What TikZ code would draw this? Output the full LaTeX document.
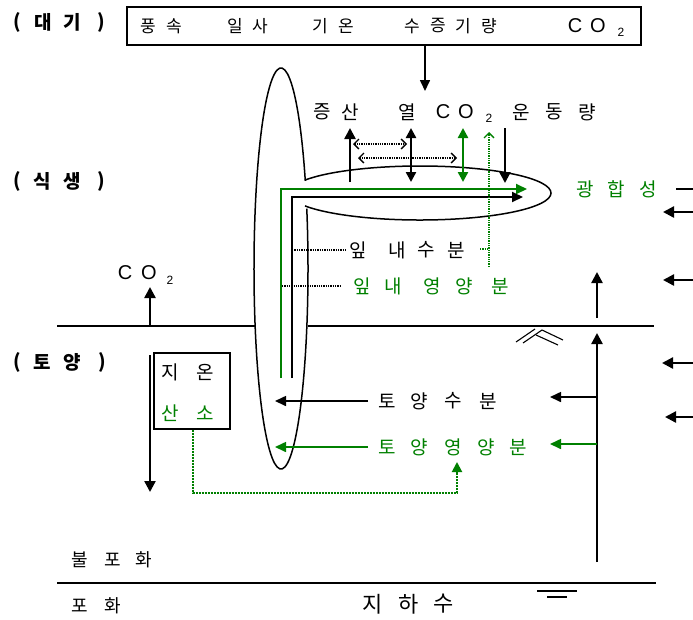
\documentclass[tikz,border=0pt]{standalone}
\usepackage{fontspec}
\setmainfont{Noto Sans CJK KR}
\newfontfamily\latfont{Liberation Sans}
\usetikzlibrary{arrows.meta}
\definecolor{vg}{RGB}{0,128,0}
\tikzset{
  kt/.style={font=\fontsize{19}{19}\selectfont, inner sep=0pt},
  kg/.style={kt, text=vg},
  kbx/.style={font=\fontsize{17}{17}\selectfont, inner sep=0pt},
  ksm/.style={font=\fontsize{18}{18}\selectfont, inner sep=0pt},
  kbig/.style={font=\fontsize{22}{22}\selectfont, inner sep=0pt},
  kbold/.style={font=\bfseries\fontsize{19}{19}\selectfont, inner sep=0pt},
  lt/.style={font=\latfont\fontsize{20}{20}\selectfont, inner sep=0pt},
  lsub/.style={font=\latfont\fontsize{12}{12}\selectfont, inner sep=0pt},
  thick arrow/.style={line width=2.4pt, -{Triangle[length=11pt,width=11pt]}},
  thick double/.style={line width=2.4pt, {Triangle[length=10pt,width=10pt]}-{Triangle[length=10pt,width=10pt]}},
  thin arrow/.style={line width=1.6pt, -{Triangle[length=11pt,width=10pt]}},
  open double/.style={line width=1.3pt, densely dotted, {Straight Barb[length=5pt,width=10pt,line width=1.3pt]}-{Straight Barb[length=5pt,width=10pt,line width=1.3pt]}},
  outline/.style={line width=1.5pt},
  dotline/.style={line width=1.3pt, densely dotted},
}
\begin{document}
\begin{tikzpicture}[x=1pt,y=1pt]
\useasboundingbox (0,0) rectangle (693,-619);

% ---- layer labels
\node[kbold] (a1) at (17,-22) {(};
\node[kbold] (a2) at (43,-22) {대};
\node[kbold] (a3) at (72,-22) {기};
\node[kbold] (a4) at (101,-22) {)};
\node[kbold] (p1) at (17,-181) {(};
\node[kbold] (p2) at (42,-181) {식};
\node[kbold] (p3) at (72,-181) {생};
\node[kbold] (p4) at (101,-181) {)};
\node[kbold] (s1) at (17,-362) {(};
\node[kbold] (s2) at (42,-362) {토};
\node[kbold] (s3) at (72,-362) {양};
\node[kbold] (s4) at (102,-362) {)};

% ---- atmosphere box
\node[draw, outline, minimum width=514pt, minimum height=38pt, inner sep=0pt] (topbox) at (384,-26) {};
\foreach \x/\c [count=\i] in {148/풍,174/속,235/일,260/사,320/기,346/온,412/수,438/증,463/기,489/량}
  \node[kbx] (b\i) at (\x,-26) {\c};
\node[lt] (bC) at (575,-26) {C};
\node[lt] (bO) at (598,-26) {O};
\node[lsub] (b2) at (621,-32) {2};
\coordinate (boxarr) at (425,-91);
\draw[thin arrow] (topbox.south -| boxarr) -- (boxarr);

% ---- plant row labels
\foreach \x/\c [count=\i] in {322/증,350/산,407/열,521/운,554/동,587/량}
  \node[kt] (u\i) at (\x,-112) {\c};
\node[lt] (uC) at (443,-112) {C};
\node[lt] (uO) at (466,-112) {O};
\node[lsub] (u2) at (489,-118) {2};

\foreach \x/\c [count=\i] in {585/광,616/합,648/성}
  \node[kg] (g\i) at (\x,-189) {\c};

\foreach \x/\c [count=\i] in {358/잎,397/내,426/수,456/분}
  \node[kt] (w\i) at (\x,-250) {\c};
\foreach \x/\c [count=\i] in {362/잎,393/내,432/영,464/양,500/분}
  \node[kg] (n\i) at (\x,-286) {\c};

% ---- stem / leaf outlines (leaf opens into the stem)
\draw[outline] (281,-268.5) ++(25.9:27pt and 200.5pt)
  arc[start angle=25.9, end angle=377.4, x radius=27pt, y radius=200.5pt];
\draw[outline] (420,-193) ++(151.4:131pt and 27pt)
  arc[start angle=151.4, end angle=-151.4, x radius=131pt, y radius=27pt];

% ---- transport paths
\draw[vg, line width=2pt, -{Triangle[length=11pt,width=10pt]}] (281,-378) -- (281,-189) -- (527,-189);
\draw[line width=2pt, -{Triangle[length=11pt,width=10pt]}] (292,-378) -- (292,-197) -- (523,-197);
\draw[dotline] (292,-250) -- (347,-250);
\draw[dotline] (282,-286) -- (340,-286);
\draw[dotline, vg] (480,-249) -- (489,-249);
\draw[dotline, vg, -{Straight Barb[length=5pt,width=10pt,line width=1.3pt]}] (489,-267) -- (489,-132);

% ---- exchange arrows
\draw[thick arrow] (350,-182) -- (350,-128);
\draw[thick double] (411,-182) -- (411,-128);
\draw[thick double, vg] (463,-182) -- (463,-128);
\draw[thick arrow] (505,-128) -- (505,-183);
\draw[open double] (353,-144) -- (407,-144);
\draw[open double] (358,-158) -- (457,-158);

% ---- right side
\draw[line width=1.2pt] (676,-189) -- (693,-189);
\foreach \y/\t [count=\i] in {212/663,280/663,363/662,417/665}
  \draw[thick arrow] (693,-\y) -- (\t,-\y);
\draw[thick arrow] (597,-318) -- (597,-272);
\draw[thick arrow] (597,-562) -- (597,-333);
\draw[thin arrow] (597,-397) -- (550,-397);
\draw[thin arrow, vg] (597,-444) -- (550,-444);

% ---- ground surface
\draw[line width=1.2pt] (57,-326) -- (254.5,-326);
\draw[line width=1.2pt] (307.5,-326) -- (654,-326);
\draw[line width=1.1pt] (516,-342) -- (535,-329);
\draw[line width=1.1pt] (523,-343) -- (542,-330) -- (563,-340);
\draw[line width=1.1pt] (536,-335) -- (558,-345);

% ---- left: CO2 and soil box
\node[lt] (lC) at (125,-273) {C};
\node[lt] (lO) at (149,-273) {O};
\node[lsub] (l2) at (170,-280) {2};
\draw[thick arrow] (150,-326) -- (150,-287);
\draw[thick arrow] (150,-355) -- (150,-492);
\node[draw, line width=1.2pt, minimum width=76pt, minimum height=76pt, inner sep=0pt] (soilbox) at (192,-391) {};
\node[kt] (j1) at (170,-372) {지};
\node[kt] (j2) at (205,-372) {온};
\node[kg] (o1) at (170,-413) {산};
\node[kg] (o2) at (205,-413) {소};
\coordinate (oxyend) at (457,-462);
\draw[vg, line width=2pt, densely dotted, -{Triangle[length=10pt,width=10pt]}]
  (soilbox.south -| 193,0) -- (193,-493) -- (457,-493) -- (oxyend);

% ---- soil water / nutrient
\foreach \x/\c [count=\i] in {387/토,419/양,453/수,488/분}
  \node[kt] (sw\i) at (\x,-401) {\c};
\foreach \x/\c [count=\i] in {387/토,419/양,453/영,486/양,518/분}
  \node[kg] (sn\i) at (\x,-447) {\c};
\draw[thin arrow] (368,-401) -- (275,-401);
\draw[thin arrow, vg] (368,-447) -- (275,-447);

% ---- bottom
\foreach \x/\c [count=\i] in {80/불,113/포,144/화}
  \node[ksm] (f\i) at (\x,-560) {\c};
\foreach \x/\c [count=\i] in {80/포,113/화}
  \node[ksm] (h\i) at (\x,-606) {\c};
\foreach \x/\c [count=\i] in {373/지,409/하,444/수}
  \node[kbig] (gw\i) at (\x,-604) {\c};
\draw[line width=1.2pt] (57,-583) -- (656,-583);
\draw[line width=1.2pt] (537,-591) -- (577,-591);
\draw[line width=1.2pt] (547,-597) -- (567,-597);
\end{tikzpicture}
\end{document}
